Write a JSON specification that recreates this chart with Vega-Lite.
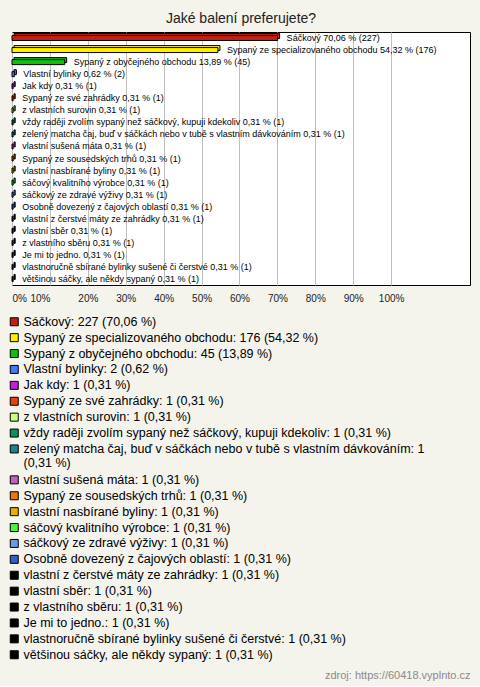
{
  "$schema": "https://vega.github.io/schema/vega-lite/v6.json",
  "background": "#f4f3ec",
  "padding": {"left": 8, "top": 11, "right": 10, "bottom": 5},
  "title": {"text": "zdroj: https://60418.vyplnto.cz", "orient": "bottom", "anchor": "end", "fontSize": 11, "fontWeight": "normal", "color": "#8a8a8a", "font": "Liberation Sans", "offset": 8},
  "config": {"view": {"stroke": "#000000", "strokeWidth": 1, "fill": "#ffffff"}, "font": "Liberation Sans"},
  "vconcat": [
    {
      "width": 458,
      "height": 253,
      "title": {"text": "Jaké balení preferujete?", "fontSize": 14, "fontWeight": "normal", "color": "#222222", "offset": 6, "font": "Liberation Sans"},
      "data": {"values": [
        {"name": "Sáčkový", "pct": 70.06, "bar_label": "Sáčkový 70,06 % (227)", "legend": "Sáčkový: 227 (70,06 %)"},
        {"name": "Sypaný ze specializovaného obchodu", "pct": 54.32, "bar_label": "Sypaný ze specializovaného obchodu 54,32 % (176)", "legend": "Sypaný ze specializovaného obchodu: 176 (54,32 %)"},
        {"name": "Sypaný z obyčejného obchodu", "pct": 13.89, "bar_label": "Sypaný z obyčejného obchodu 13,89 % (45)", "legend": "Sypaný z obyčejného obchodu: 45 (13,89 %)"},
        {"name": "Vlastní bylinky", "pct": 0.62, "bar_label": "Vlastní bylinky 0,62 % (2)", "legend": "Vlastní bylinky: 2 (0,62 %)"},
        {"name": "Jak kdy", "pct": 0.31, "bar_label": "Jak kdy 0,31 % (1)", "legend": "Jak kdy: 1 (0,31 %)"},
        {"name": "Sypaný ze své zahrádky", "pct": 0.31, "bar_label": "Sypaný ze své zahrádky 0,31 % (1)", "legend": "Sypaný ze své zahrádky: 1 (0,31 %)"},
        {"name": "z vlastních surovin", "pct": 0.31, "bar_label": "z vlastních surovin 0,31 % (1)", "legend": "z vlastních surovin: 1 (0,31 %)"},
        {"name": "vždy raději zvolím sypaný než sáčkový, kupuji kdekoliv", "pct": 0.31, "bar_label": "vždy raději zvolím sypaný než sáčkový, kupuji kdekoliv 0,31 % (1)", "legend": "vždy raději zvolím sypaný než sáčkový, kupuji kdekoliv: 1 (0,31 %)"},
        {"name": "zelený matcha čaj, buď v sáčkách nebo v tubě s vlastním dávkováním", "pct": 0.31, "bar_label": "zelený matcha čaj, buď v sáčkách nebo v tubě s vlastním dávkováním 0,31 % (1)", "legend": "zelený matcha čaj, buď v sáčkách nebo v tubě s vlastním dávkováním: 1|(0,31 %)"},
        {"name": "vlastní sušená máta", "pct": 0.31, "bar_label": "vlastní sušená máta 0,31 % (1)", "legend": "vlastní sušená máta: 1 (0,31 %)"},
        {"name": "Sypaný ze sousedských trhů", "pct": 0.31, "bar_label": "Sypaný ze sousedských trhů 0,31 % (1)", "legend": "Sypaný ze sousedských trhů: 1 (0,31 %)"},
        {"name": "vlastní nasbírané byliny", "pct": 0.31, "bar_label": "vlastní nasbírané byliny 0,31 % (1)", "legend": "vlastní nasbírané byliny: 1 (0,31 %)"},
        {"name": "sáčový kvalitního výrobce", "pct": 0.31, "bar_label": "sáčový kvalitního výrobce 0,31 % (1)", "legend": "sáčový kvalitního výrobce: 1 (0,31 %)"},
        {"name": "sáčkový ze zdravé výživy", "pct": 0.31, "bar_label": "sáčkový ze zdravé výživy 0,31 % (1)", "legend": "sáčkový ze zdravé výživy: 1 (0,31 %)"},
        {"name": "Osobně dovezený z čajových oblastí", "pct": 0.31, "bar_label": "Osobně dovezený z čajových oblastí 0,31 % (1)", "legend": "Osobně dovezený z čajových oblastí: 1 (0,31 %)"},
        {"name": "vlastní z čerstvé máty ze zahrádky", "pct": 0.31, "bar_label": "vlastní z čerstvé máty ze zahrádky 0,31 % (1)", "legend": "vlastní z čerstvé máty ze zahrádky: 1 (0,31 %)"},
        {"name": "vlastní sběr", "pct": 0.31, "bar_label": "vlastní sběr 0,31 % (1)", "legend": "vlastní sběr: 1 (0,31 %)"},
        {"name": "z vlastního sběru", "pct": 0.31, "bar_label": "z vlastního sběru 0,31 % (1)", "legend": "z vlastního sběru: 1 (0,31 %)"},
        {"name": "Je mi to jedno.", "pct": 0.31, "bar_label": "Je mi to jedno. 0,31 % (1)", "legend": "Je mi to jedno.: 1 (0,31 %)"},
        {"name": "vlastnoručně sbírané bylinky sušené či čerstvé", "pct": 0.31, "bar_label": "vlastnoručně sbírané bylinky sušené či čerstvé 0,31 % (1)", "legend": "vlastnoručně sbírané bylinky sušené či čerstvé: 1 (0,31 %)"},
        {"name": "většinou sáčky, ale někdy sypaný", "pct": 0.31, "bar_label": "většinou sáčky, ale někdy sypaný 0,31 % (1)", "legend": "většinou sáčky, ale někdy sypaný: 1 (0,31 %)"}
      ]},
      "encoding": {
        "y": {"field": "name", "type": "nominal", "sort": null, "axis": null, "scale": {"paddingInner": 0, "paddingOuter": 0}},
        "x": {
          "field": "pct", "type": "quantitative",
          "scale": {"domain": [0, 120.8], "nice": false, "zero": true},
          "axis": {
            "values": [0, 10, 20, 30, 40, 50, 60, 70, 80, 90, 100],
            "labelExpr": "datum.value + '%'",
            "grid": true, "gridColor": "#c0c0c0", "gridWidth": 1,
            "ticks": false, "domain": false, "title": null,
            "labelFontSize": 10, "labelColor": "#222222", "labelPadding": 8,
            "labelFont": "Liberation Sans",
            "labelAlign": {"condition": [{"test": "datum.value == 0", "value": "left"}, {"test": "datum.value == 10", "value": "right"}], "value": "center"}
          }
        },
        "color": {"field": "legend", "type": "nominal", "sort": null,
          "scale": {"range": ["#c0200f", "#ffee00", "#10c010", "#4a78f0", "#c020d8", "#e84010", "#c8ff80", "#109060", "#208090", "#c060c0", "#e87810", "#e8b000", "#50f040", "#7098e0", "#3060c0", "#000000", "#000000", "#000000", "#000000", "#000000", "#000000"]},
          "legend": {
            "orient": "none", "legendX": -4, "legendY": 283.5, "direction": "vertical", "columns": 1, "title": null,
            "symbolType": "square", "symbolSize": 64, "symbolStrokeColor": "#000000", "symbolStrokeWidth": 1,
            "labelFontSize": 12.5, "labelColor": "#000000", "labelLimit": 470, "labelFont": "Liberation Sans",
            "labelExpr": "split(datum.label, '|')",
            "rowPadding": 2.9, "labelOffset": 3
          }
        }
      },
      "layer": [
        {
          "mark": {"type": "bar", "height": 5, "xOffset": 2, "x2Offset": 2, "yOffset": -2, "y2Offset": -2, "stroke": "#000000", "strokeWidth": 1}
        },
        {
          "mark": {"type": "bar", "height": 5, "stroke": "#000000", "strokeWidth": 1}
        },
        {
          "mark": {"type": "text", "align": "left", "baseline": "middle", "dx": 9, "fontSize": 9, "font": "Liberation Sans"},
          "encoding": {"text": {"field": "bar_label"}, "color": {"value": "#000000"}}
        }
      ]
    }
  ]
}
